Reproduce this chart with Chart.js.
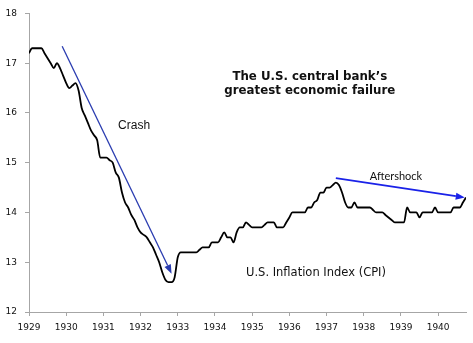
<!DOCTYPE html>
<html>
<head>
<meta charset="utf-8">
<script src="https://cdn.jsdelivr.net/npm/chart.js@4.4.0/dist/chart.umd.min.js"></script>
<style>
html,body{margin:0;padding:0;background:#fff;}
#wrap{width:473px;height:343px;position:relative;}
</style>
</head>
<body>
<div id="wrap"><canvas id="c" width="473" height="343"></canvas></div>
<script>
// Tick labels (years), one per 12 monthly points starting Jan 1929
const yearLabels = ['1929','1930','1931','1932','1933','1934','1935','1936','1937','1938','1939','1940'];
const yTicks = [12, 13, 14, 15, 16, 17, 18];

// Monthly U.S. CPI, Jan 1929 .. Oct 1940
const cpi1929 = [17.2,17.3,17.3,17.3,17.3,17.2,17.1,17.0,16.9,17.0,16.9,16.75];
const cpi1930 = [16.6,16.5,16.55,16.6,16.45,16.1,15.95,15.8,15.65,15.55,15.45,15.1];
const cpi1931 = [15.1,15.1,15.05,15.0,14.8,14.7,14.4,14.2,14.1,13.95,13.85,13.7];
const cpi1932 = [13.6,13.55,13.5,13.4,13.3,13.15,13.0,12.8,12.65,12.6,12.6,12.7];
const cpi1933 = [13.1,13.2,13.2,13.2,13.2,13.2,13.2,13.25,13.3,13.3,13.3,13.4];
const cpi1934 = [13.4,13.4,13.5,13.6,13.5,13.5,13.4,13.6,13.7,13.7,13.8,13.75];
const cpi1935 = [13.7,13.7,13.7,13.7,13.75,13.8,13.8,13.8,13.7,13.7,13.7,13.8];
const cpi1936 = [13.9,14.0,14.0,14.0,14.0,14.0,14.1,14.1,14.2,14.25,14.4,14.4];
const cpi1937 = [14.5,14.5,14.55,14.6,14.55,14.4,14.2,14.1,14.1,14.2,14.1,14.1];
const cpi1938 = [14.1,14.1,14.1,14.05,14.0,14.0,14.0,13.95,13.9,13.85,13.8,13.8];
const cpi1939 = [13.8,13.8,14.1,14.0,14.0,14.0,13.9,14.0,14.0,14.0,14.0,14.1];
const cpi1940 = [14.0,14.0,14.0,14.0,14.0,14.1,14.1,14.1,14.2,14.3];

const cpi = [].concat(cpi1929,cpi1930,cpi1931,cpi1932,cpi1933,cpi1934,cpi1935,cpi1936,cpi1937,cpi1938,cpi1939,cpi1940);
const points = cpi.map((v, i) => ({x: i, y: v}));

// Annotation arrows and labels, in data units (month index, CPI)
const annotations = {
  arrows: [
    {from: [10.7, 17.34], to: [46.0, 12.77], color: '#2a3cb0', width: 1.3, head: 9},
    {from: [99.0, 14.69], to: [140.6, 14.30], color: '#1a22e8', width: 1.8, head: 9}
  ],
  texts: [
    {at: [33.9, 15.75], text: 'Crash', font: '12px "Liberation Sans", Arial, sans-serif'},
    {at: [118.4, 14.72], text: 'Aftershock', font: '11px Lato, "Liberation Sans", sans-serif'},
    {at: [92.6, 12.79], text: 'U.S. Inflation Index (CPI)', font: '11.5px "DejaVu Sans", Verdana, sans-serif'},
    {at: [90.6, 16.73], text: 'The U.S. central bank\u2019s', font: 'bold 11.8px "DejaVu Sans", Verdana, sans-serif'},
    {at: [90.6, 16.45], text: 'greatest economic failure', font: 'bold 11.8px "DejaVu Sans", Verdana, sans-serif'}
  ]
};

const annotPlugin = {
  id: 'annot',
  afterDatasetsDraw(chart) {
    const ctx = chart.ctx, xs = chart.scales.x, ys = chart.scales.y;
    ctx.save();
    annotations.arrows.forEach(a => {
      const x1 = xs.getPixelForValue(a.from[0]), y1 = ys.getPixelForValue(a.from[1]);
      const x2 = xs.getPixelForValue(a.to[0]), y2 = ys.getPixelForValue(a.to[1]);
      const ang = Math.atan2(y2 - y1, x2 - x1);
      const h = a.head;
      const bx = x2 - h * Math.cos(ang), by = y2 - h * Math.sin(ang);
      ctx.strokeStyle = a.color; ctx.fillStyle = a.color; ctx.lineWidth = a.width;
      ctx.beginPath(); ctx.moveTo(x1, y1); ctx.lineTo(bx, by); ctx.stroke();
      ctx.beginPath();
      ctx.moveTo(x2, y2);
      ctx.lineTo(bx + 3.5 * Math.cos(ang + Math.PI/2), by + 3.5 * Math.sin(ang + Math.PI/2));
      ctx.lineTo(bx + 3.5 * Math.cos(ang - Math.PI/2), by + 3.5 * Math.sin(ang - Math.PI/2));
      ctx.closePath(); ctx.fill();
    });
    ctx.fillStyle = '#111';
    ctx.textAlign = 'center'; ctx.textBaseline = 'middle';
    annotations.texts.forEach(t => {
      ctx.font = t.font;
      ctx.fillText(t.text, xs.getPixelForValue(t.at[0]), ys.getPixelForValue(t.at[1]));
    });
    ctx.restore();
  }
};

new Chart(document.getElementById('c'), {
  type: 'line',
  data: {
    datasets: [{
      data: points,
      borderColor: '#000',
      borderWidth: 1.8,
      pointRadius: 0,
      tension: 0.4,
      cubicInterpolationMode: 'monotone',
      fill: false
    }]
  },
  options: {
    responsive: false,
    animation: false,
    devicePixelRatio: 1,
    layout: {padding: {top: 10, right: 7, left: 0, bottom: 0}},
    plugins: {legend: {display: false}, tooltip: {enabled: false}},
    scales: {
      x: {
        type: 'linear',
        min: 0,
        max: cpi.length - 1,
        afterBuildTicks(scale) { scale.ticks = yearLabels.map((_, k) => ({value: k * 12})); },
        afterFit(scale) { scale.height = 31; },
        grid: {display: true, drawOnChartArea: false, drawTicks: true, tickLength: 4, color: '#a6a6a6'},
        border: {display: true, color: '#a6a6a6', width: 1},
        ticks: {
          autoSkip: false, maxRotation: 0, padding: 6, color: '#111',
          font: {family: '"DejaVu Sans", Verdana, sans-serif', size: 9},
          callback: (v) => yearLabels[Math.round(v / 12)]
        }
      },
      y: {
        type: 'linear',
        min: yTicks[0],
        max: yTicks[yTicks.length - 1],
        afterBuildTicks(scale) { scale.ticks = yTicks.map(v => ({value: v})); },
        afterFit(scale) { scale.width = 29; },
        grid: {display: true, drawOnChartArea: false, drawTicks: true, tickLength: 4, color: '#a6a6a6'},
        border: {display: true, color: '#a6a6a6', width: 1},
        ticks: {
          padding: 8, color: '#111',
          font: {family: '"DejaVu Sans", Verdana, sans-serif', size: 9}
        }
      }
    }
  },
  plugins: [annotPlugin]
});
</script>
</body>
</html>
